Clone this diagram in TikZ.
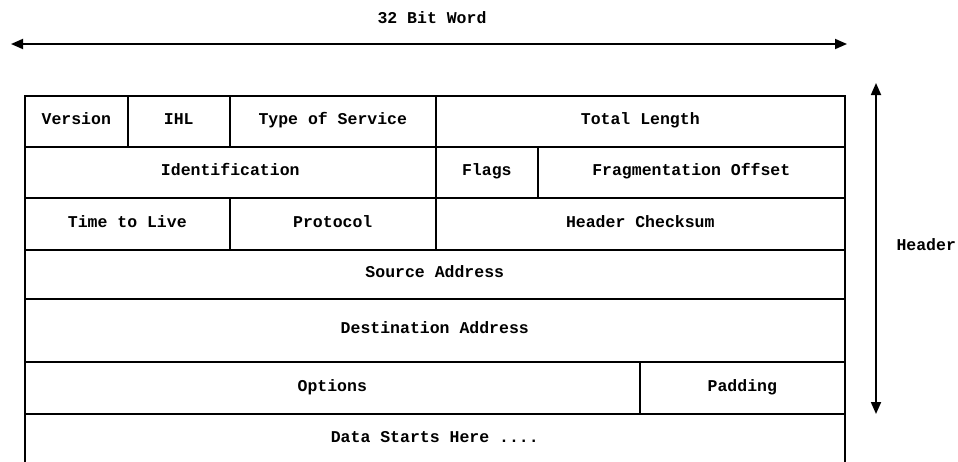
\documentclass[tikz,border=0pt]{standalone}
\usepackage{fontspec}
\setmonofont{Liberation Mono}
\usetikzlibrary{arrows.meta}
\tikzset{
  field/.style={draw=black,line width=1.6pt,inner sep=0pt,anchor=north west,
                text height=10pt,text depth=3pt,
                font=\ttfamily\bfseries\fontsize{16.5}{18}\selectfont},
  span/.style={{Triangle[length=12pt,width=10pt]}-{Triangle[length=12pt,width=10pt]},line width=1.8pt},
  lab/.style={font=\ttfamily\bfseries\fontsize{16.5}{18}\selectfont},
}
\newcommand{\cell}[6]{% name, x0, y0, x1, y1, text
  \node[field,minimum width=#4pt-#2pt,minimum height=#5pt-#3pt] (#1) at (#2,#3) {#6};}

\begin{document}
\begin{tikzpicture}[x=1pt,y=-1pt]
  \path[use as bounding box,fill=white] (0,0) rectangle (958,461);

  % width of one word
  \node[lab] (word) at (432,18) {32 Bit Word};
  \coordinate (wordL) at (11,44);
  \coordinate (wordR) at (847,44);
  \draw[span] (wordL) -- (wordR);

  % header fields, row by row
  \cell{version}{24}{95}{127}{146}{Version}
  \cell{ihl}{127}{95}{229}{146}{IHL}
  \cell{tos}{229}{95}{435}{146}{Type of Service}
  \cell{totlen}{435}{95}{844}{146}{Total Length}

  \cell{ident}{24}{146}{435}{197}{Identification}
  \cell{flags}{435}{146}{537}{197}{Flags}
  \cell{fragoff}{537}{146}{844}{197}{Fragmentation Offset}

  \cell{ttl}{24}{197}{229}{249}{Time to Live}
  \cell{proto}{229}{197}{435}{249}{Protocol}
  \cell{chksum}{435}{197}{844}{249}{Header Checksum}

  \cell{srcaddr}{24}{249}{844}{298}{Source Address}
  \cell{dstaddr}{24}{298}{844}{361}{Destination Address}

  \cell{options}{24}{361}{639}{413}{Options}
  \cell{padding}{639}{361}{844}{413}{Padding}

  \cell{data}{24}{413}{844}{463}{Data Starts Here ....}

  % extent of the header
  \coordinate (hdrT) at (876,83);
  \coordinate (hdrB) at (876,414);
  \draw[span] (hdrB) -- (hdrT);
  \node[lab,anchor=west] (header) at (893,245) {Header};
\end{tikzpicture}
\end{document}
